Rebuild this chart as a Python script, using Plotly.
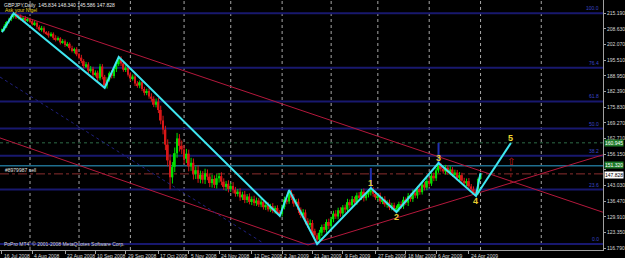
import plotly.graph_objects as go

# ---------------- data ----------------
symbol = "GBPJPY,Daily"
date_labels = ["16 Jul 2008", "4 Aug 2008", "22 Aug 2008", "10 Sep 2008", "29 Sep 2008",
               "17 Oct 2008", "5 Nov 2008", "24 Nov 2008", "12 Dec 2008", "2 Jan 2009",
               "21 Jan 2009", "9 Feb 2009", "27 Feb 2009", "18 Mar 2009", "6 Apr 2009", "24 Apr 2009"]
date_label_bar = [0, 13, 27, 40, 53, 67, 80, 93, 107, 120, 133, 146, 160, 173, 186, 200]
month_start_bar = [12, 33, 55, 78, 98, 120, 141, 161, 183, 205, 231]
price_ticks = [116.790, 123.350, 129.910, 136.470, 143.030, 149.590, 156.150, 162.710,
               169.270, 175.830, 182.390, 188.950, 195.510, 202.070, 208.630, 215.190]
hidden_ticks = [149.590]   # covered by the price boxes in the original

open0 = 208.0
closes = [
    208.2, 209.8, 211.5, 212.6, 213.9, 214.5,
    213.4, 213.9, 212.6, 213.2, 212.1, 212.8,
    211.9, 210.6, 211.2, 209.5, 208.3, 208.9, 207.2, 206.8,
    205.9, 206.6, 204.9, 204.1, 204.7, 203.0, 203.5, 201.9,
    202.4, 200.6, 199.4, 200.1, 198.0, 196.6,
    195.2, 193.1, 193.8, 191.2, 192.0, 189.5, 190.3, 188.0, 192.9, 188.6, 185.0,
    187.4, 190.1, 188.9, 191.8, 193.9, 196.0,
    194.2, 191.6, 192.4, 189.5, 187.9, 188.7, 185.8,
    185.0, 186.3, 183.5, 181.9, 182.6, 180.3,
    179.4, 176.9, 178.2, 174.7,
    170.3, 166.5, 160.2, 153.6, 146.5, 150.9,
    156.6, 162.8, 159.7, 158.2,
    154.3, 156.4, 151.1, 152.6, 147.8, 149.5, 145.9,
    147.6, 145.5, 148.2, 146.8, 144.1, 145.8, 143.4, 146.1, 147.0, 144.7, 142.5, 143.8, 141.6, 142.9,
    141.3, 139.7, 140.5, 138.1, 139.3, 137.0, 138.5, 136.2, 137.4, 135.7, 136.8,
    135.1, 136.3, 134.0, 134.9, 133.1, 134.4, 132.5, 133.7, 131.8, 131.2,
    134.1, 137.2, 136.4, 140.0,
    138.0, 135.5, 136.3, 132.9, 130.7, 131.8, 128.3, 126.6, 127.4, 124.0, 122.2, 120.4,
    123.3, 125.7, 124.5, 127.8, 126.2, 129.0, 131.3, 130.1, 132.7, 131.4, 133.9, 133.0,
    136.1, 134.8, 137.4, 136.0, 138.9, 138.1, 140.5, 137.8, 139.3, 140.2, 141.3,
    139.6, 138.1, 138.9, 136.5, 137.3, 135.2, 136.0, 133.9, 134.8, 133.1, 133.4,
    135.3, 134.5, 137.1, 135.9, 138.7, 137.4, 140.0, 138.9, 141.7, 140.3, 143.5, 142.2,
    145.0, 143.9, 147.2, 146.1, 149.4, 151.3,
    150.1, 149.0, 150.5, 148.6, 149.8, 147.7, 148.5, 146.3, 147.4, 145.1, 144.0, 144.9,
    142.7, 141.5, 140.2, 139.8,
    145.834, 147.828,
]
upper_wick = [
    0.6, 0.8, 0.5, 0.7, 0.9, 0.7, 1.0, 0.6, 0.8, 0.5, 0.9, 0.7, 0.6, 0.8,
    0.9, 0.6, 0.7, 1.0, 0.8, 0.5, 0.9, 0.7, 0.6, 1.1, 0.8, 0.5, 0.9, 0.7,
    0.8, 0.6, 1.0, 0.7, 0.9, 0.6, 1.2, 0.8, 1.0, 0.9, 1.1, 0.8, 1.0, 0.9,
    1.1, 1.0, 0.8, 1.0, 0.7, 1.2, 0.9, 0.8, 0.9, 1.2, 0.9, 1.1, 0.8, 1.0,
    0.9, 1.2, 1.0, 0.8, 1.1, 0.9, 1.0, 1.2, 1.4, 1.0, 1.3, 1.5, 1.8, 2.0,
    1.6, 2.2, 2.5, 2.0, 2.4, 2.3, 1.8, 2.2, 1.9, 2.0, 1.7, 2.1, 1.8, 1.6,
    2.0, 1.7, 1.5, 1.9, 1.6, 1.4, 1.8, 1.5, 1.7, 1.3, 1.6, 1.4, 1.2, 1.5,
    1.3, 1.6, 1.2, 1.1, 1.4, 1.2, 1.5, 1.0, 1.3, 1.1, 1.4, 1.2, 1.0, 1.3,
    1.1, 0.9, 1.2, 1.0, 1.3, 0.9, 1.1, 1.0, 1.0, 1.2, 1.4, 1.2, 1.2, 1.5,
    1.1, 1.3, 1.0, 1.4, 1.2, 1.1, 1.5, 1.2, 1.0, 0.9, 1.2, 1.0, 1.3, 1.1,
    1.4, 1.0, 1.2, 1.5, 1.1, 1.3, 1.0, 1.2, 1.4, 1.1, 1.3, 1.0, 1.2, 1.4,
    1.1, 1.3, 1.0, 1.2, 0.7, 1.1, 1.3, 1.0, 1.2, 1.1, 1.3, 0.9, 1.2, 1.0,
    1.1, 1.3, 1.0, 1.1, 1.3, 1.0, 1.2, 1.1, 1.4, 1.0, 1.2, 1.3, 1.1, 1.0,
    1.2, 1.4, 1.1, 1.3, 1.0, 1.2, 1.3, 1.0, 1.2, 1.1, 1.4, 1.0, 1.2, 1.1,
    1.3, 1.0, 1.2, 1.1, 1.3, 1.0, 1.2, 1.1, 0.6, 0.512,
]
lower_wick = [
    0.7, 0.5, 0.8, 0.6, 0.7, 0.9, 0.6, 0.8, 0.5, 0.9, 0.7, 0.6, 0.8, 0.5,
    0.7, 0.9, 0.6, 0.8, 0.5, 0.7, 0.9, 0.6, 0.8, 0.7, 0.5, 0.9, 0.6, 0.8,
    0.7, 0.9, 0.6, 1.0, 0.8, 0.7, 0.9, 1.0, 0.8, 1.1, 0.9, 1.0, 0.8, 1.2,
    0.9, 1.1, 1.0, 1.3, 0.8, 1.0, 0.9, 1.2, 0.8, 1.1, 0.9, 1.0, 0.8, 1.2,
    0.9, 1.1, 1.0, 1.2, 0.9, 1.1, 1.0, 0.9, 1.2, 1.0, 1.1, 1.3, 1.6, 2.0,
    2.3, 2.5, 5.0, 2.6, 2.2, 1.9, 2.4, 2.0, 2.3, 1.8, 2.1, 1.9, 2.2, 2.0,
    1.7, 1.9, 1.6, 1.8, 1.5, 1.7, 1.9, 1.4, 1.6, 1.8, 1.5, 1.3, 1.6, 1.4,
    1.2, 1.5, 1.3, 1.2, 1.4, 1.1, 1.3, 1.2, 1.0, 1.3, 1.1, 1.2, 1.0, 1.1,
    1.0, 1.2, 0.9, 1.1, 1.0, 1.2, 0.9, 0.9, 1.1, 1.0, 1.2, 1.0, 1.0, 1.3,
    1.1, 1.4, 1.2, 1.0, 1.5, 1.3, 1.1, 1.4, 1.2, 1.8, 1.1, 1.3, 1.0, 1.2,
    1.4, 1.1, 1.3, 1.0, 1.2, 1.4, 1.1, 1.3, 1.0, 1.2, 1.1, 1.3, 1.0, 1.2,
    1.1, 1.4, 1.0, 1.2, 1.3, 1.2, 1.0, 1.3, 1.1, 1.2, 1.0, 1.4, 1.1, 1.2,
    1.0, 1.1, 1.3, 1.1, 1.2, 1.0, 1.4, 1.1, 1.2, 1.0, 1.3, 1.1, 1.0, 1.2,
    1.1, 1.3, 1.0, 1.2, 1.1, 1.0, 1.2, 1.0, 1.3, 1.1, 1.2, 1.0, 1.4, 1.1,
    1.2, 1.3, 1.0, 1.2, 1.1, 1.3, 1.0, 1.1, 0.5, 0.248,
]

# zigzag swing bars (alternating low/high) and Elliott labels
zigzag_bars = [0, 5, 44, 50, 119, 123, 135, 158, 169, 187, 203, 205]
zigzag_kind = ["L", "H", "L", "H", "L", "H", "L", "H", "L", "H", "L", "H"]
wave_bars = [158, 169, 187, 203]
wave_names = ["1", "2", "3", "4"]
wave5_bar = 218
wave5_price = 160.9
arrow_bar = 218
arrow_price = 153.0
arrow_stem = [150.3, 143.8]
spike_bars = [158, 187]
spike_tops = [150.4, 160.9]

# Fibonacci object: from the Jan-2009 low bar to the Jul-2008 high bar
fib_low_bar, fib_high_bar = 135, 5
fib_levels = [0.0, 23.6, 38.2, 50.0, 61.8, 76.4, 100.0]

# trend-line objects: (bar, price) anchors
upper_tl = ([5, 257.4], [215.2, 131.9])
lower_tl = ([-0.85, 131.1], [163.0, 118.2])
rising_tl = ([131.1, 257.4], [118.2, 155.9])
dotted_tl = ([-0.85, 111.9], [188.5, 119.0])

order_price = 147.95
order_label = "#8979987 sell"
tp_price = 160.945
sl_price = 151.320
copyright_text = "PoPro MT4, \u00a9 2001-2008 MetaQuotes Software Corp."

# ---------------- derived OHLC ----------------
n = min(len(closes), len(upper_wick), len(lower_wick))
closes = closes[:n]
opens = [open0] + closes[:-1]
highs = [max(o, c) + w for o, c, w in zip(opens, closes, upper_wick[:n])]
lows = [min(o, c) - w for o, c, w in zip(opens, closes, lower_wick[:n])]
bars = list(range(n))

FONT = "Liberation Sans, Arial, sans-serif"
UP, DN = "#00E000", "#D81818"
CYAN = "#3FE6F0"
TL = "#B4183C"

fig = go.Figure()

# candles: wicks + bodies
for col, cond in ((UP, lambda o, c: c >= o), (DN, lambda o, c: c < o)):
    wx, wy = [], []
    bx, bb, bh = [], [], []
    for i in bars:
        if cond(opens[i], closes[i]):
            wx += [i, i, None]
            wy += [lows[i], highs[i], None]
            bx.append(i)
            bb.append(min(opens[i], closes[i]))
            bh.append(max(abs(closes[i] - opens[i]), 0.25))
    fig.add_trace(go.Scatter(x=wx, y=wy, mode="lines", line=dict(color=col, width=1),
                             hoverinfo="skip", showlegend=False))
    fig.add_trace(go.Bar(x=bx, y=bh, base=bb, width=0.8, marker=dict(color=col, line=dict(width=0)),
                         hoverinfo="skip", showlegend=False))

# trend lines
for (tx, ty), dash, col in ((upper_tl, "solid", TL), (lower_tl, "solid", TL),
                            (rising_tl, "solid", TL), (dotted_tl, "dot", "#20207E")):
    fig.add_trace(go.Scatter(x=tx, y=ty, mode="lines", line=dict(color=col, width=1, dash=dash),
                             hoverinfo="skip", showlegend=False))

# blue spikes
for b, top in zip(spike_bars, spike_tops):
    fig.add_trace(go.Scatter(x=[b, b], y=[highs[b], top], mode="lines",
                             line=dict(color="#2030B0", width=2), hoverinfo="skip", showlegend=False))

# zigzag
zx = zigzag_bars
zy = [lows[b] if k == "L" else highs[b] for b, k in zip(zigzag_bars, zigzag_kind)]
fig.add_trace(go.Scatter(x=zx, y=zy, mode="lines", line=dict(color=CYAN, width=2),
                         hoverinfo="skip", showlegend=False))
fig.add_trace(go.Scatter(x=[wave_bars[-1], wave5_bar], y=[lows[wave_bars[-1]], wave5_price],
                         mode="lines", line=dict(color=CYAN, width=2),
                         hoverinfo="skip", showlegend=False))

# arrow stem
fig.add_trace(go.Scatter(x=[arrow_bar, arrow_bar], y=arrow_stem, mode="lines",
                         line=dict(color="#A01818", width=1, dash="dot"),
                         hoverinfo="skip", showlegend=False))

shapes = []
# vertical grid at month starts
for b in month_start_bar:
    shapes.append(dict(type="line", xref="x", yref="paper", x0=b, x1=b, y0=0, y1=1,
                       line=dict(color="#A8A8A8", width=1, dash="3px,3px"), layer="below"))
# fibonacci levels
fib_low = lows[fib_low_bar]
fib_high = highs[fib_high_bar]
fib_prices = [fib_low + (fib_high - fib_low) * lv / 100.0 for lv in fib_levels]
for p in fib_prices:
    shapes.append(dict(type="line", xref="paper", yref="y", x0=0, x1=1, y0=p, y1=p,
                       line=dict(color="#18186E", width=2), layer="below"))
# order / tp / sl lines
shapes.append(dict(type="line", xref="paper", yref="y", x0=0, x1=1, y0=tp_price, y1=tp_price,
                   line=dict(color="#2E6A46", width=1, dash="dot"), layer="below"))
shapes.append(dict(type="line", xref="paper", yref="y", x0=0, x1=1, y0=sl_price, y1=sl_price,
                   line=dict(color="#1F6E8E", width=1.5), layer="below"))
shapes.append(dict(type="line", xref="paper", yref="y", x0=0, x1=1, y0=order_price, y1=order_price,
                   line=dict(color="#8A2E2E", width=1, dash="dashdot"), layer="below"))

ann = []
# date labels
for b, t in zip(date_label_bar, date_labels):
    ann.append(dict(x=b, y=0, xref="x", yref="paper", text=t, showarrow=False,
                    xanchor="left", yanchor="top", xshift=0, yshift=-1,
                    font=dict(family=FONT, size=5, color="#D8D8D8")))
# header
last = n - 1
hdr = f"{symbol}  {opens[last]:.3f} {highs[last]:.3f} {lows[last]:.3f} {closes[last]:.3f}"
ann.append(dict(x=0, y=1, xref="paper", yref="paper", text=hdr, showarrow=False,
                xanchor="left", yanchor="top", xshift=2, yshift=0,
                font=dict(family=FONT, size=5, color="#E8E8E8")))
ann.append(dict(x=0, y=1, xref="paper", yref="paper", text="Ask your Nigel", showarrow=False,
                xanchor="left", yanchor="top", xshift=3, yshift=-5,
                font=dict(family=FONT, size=5, color="#E8D020")))
ann.append(dict(x=0, y=order_price, xref="paper", yref="y", text=order_label, showarrow=False,
                xanchor="left", yanchor="bottom", xshift=3, yshift=-1,
                font=dict(family=FONT, size=5, color="#E0E0E0")))
ann.append(dict(x=0, y=fib_prices[0], xref="paper", yref="y", text=copyright_text, showarrow=False,
                xanchor="left", yanchor="middle", xshift=2,
                font=dict(family=FONT, size=5, color="#D8D8D8")))
# fib level texts
for lv, p in zip(fib_levels, fib_prices):
    ann.append(dict(x=1, y=p, xref="paper", yref="y", text=f"{lv:.1f}", showarrow=False,
                    xanchor="right", yanchor="bottom", xshift=-2, yshift=0,
                    font=dict(family=FONT, size=5, color="#3A46C8")))
# wave labels
for b, name, k in zip(wave_bars, wave_names, ["H", "L", "H", "L"]):
    py = highs[b] if k == "H" else lows[b]
    ann.append(dict(x=b, y=py, xref="x", yref="y", text=f"<b>{name}</b>", showarrow=False,
                    yshift=5 if k == "H" else -5,
                    font=dict(family=FONT, size=9, color="#E8CC30")))
ann.append(dict(x=wave5_bar, y=wave5_price, xref="x", yref="y", text="<b>5</b>", showarrow=False,
                yshift=5, font=dict(family=FONT, size=9, color="#F0D830")))
ann.append(dict(x=arrow_bar, y=arrow_price, xref="x", yref="y", text="\u21e7", showarrow=False,
                font=dict(family="DejaVu Sans", size=10, color="#C01818")))
# right-axis price boxes
for p, bg, fg, ys in ((tp_price, "#1E7A28", "#FFFFFF", 0), (sl_price, "#1E7A28", "#FFFFFF", 1),
                      (closes[last], "#FFFFFF", "#000000", -1)):
    ann.append(dict(x=1, y=p, xref="paper", yref="y", text=f"{p:.3f}", showarrow=False,
                    xanchor="left", yanchor="middle", xshift=1, yshift=ys, bgcolor=bg, borderpad=0,
                    font=dict(family=FONT, size=5, color=fg)))

tick_text = ["" if v in hidden_ticks else f"{v:.3f}" for v in price_ticks]

fig.update_layout(
    width=625, height=258,
    margin=dict(l=0, r=18, t=0, b=8),
    paper_bgcolor="#000000", plot_bgcolor="#000000",
    barmode="overlay", showlegend=False,
    shapes=shapes, annotations=ann,
    xaxis=dict(range=[-0.85, 257.45], showgrid=False, zeroline=False,
               tickvals=date_label_bar, ticks="outside", ticklen=3, tickcolor="#A0A0A0",
               showticklabels=False, showline=True, linecolor="#A0A0A0", linewidth=1),
    yaxis=dict(range=[116.08, 220.75], side="right", showgrid=False, zeroline=False,
               tickvals=price_ticks, ticktext=tick_text,
               ticks="outside", ticklen=2, tickcolor="#A0A0A0",
               tickfont=dict(family=FONT, size=5, color="#D8D8D8"),
               showline=True, linecolor="#A0A0A0", linewidth=1),
)

fig.write_html("out.html")
